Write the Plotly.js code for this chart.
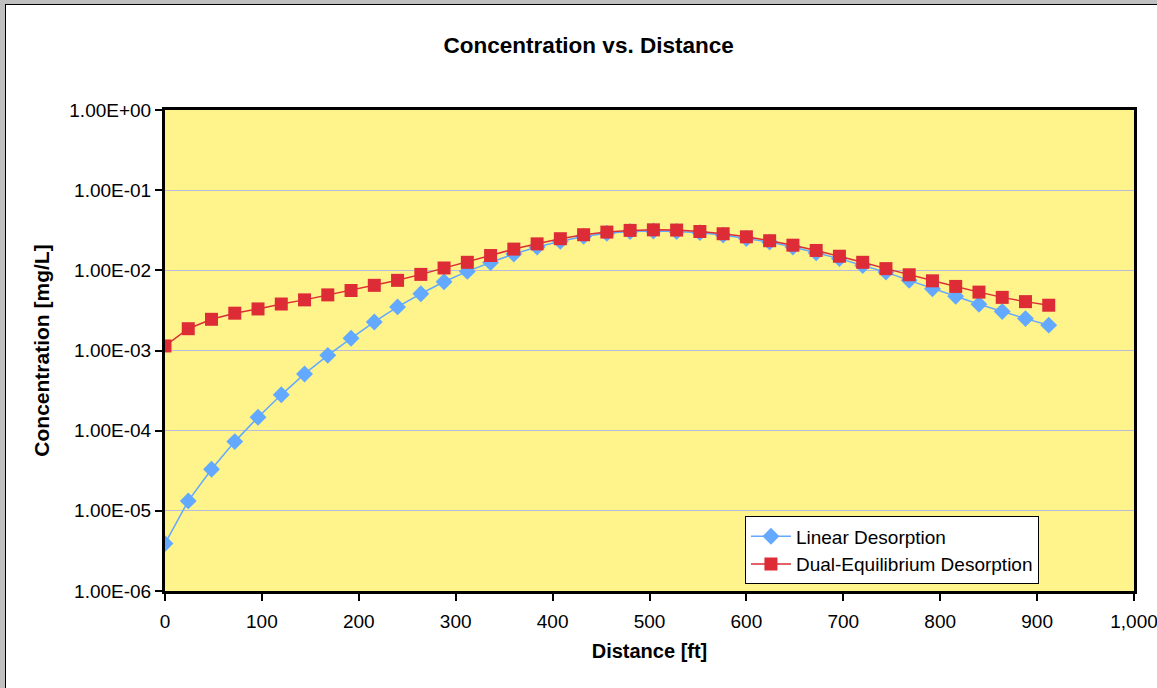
<!DOCTYPE html>
<html>
<head>
<meta charset="utf-8">
<script src="https://cdn.plot.ly/plotly-3.0.1.min.js"></script>
<style>
html,body{margin:0;padding:0;background:#c0c0c0;width:1157px;height:688px;overflow:hidden;}
#frame{position:absolute;left:5px;top:4px;width:1170px;height:700px;border:1px solid #000;background:#fff;overflow:hidden;}
#chart{width:1170px;height:700px;}
</style>
</head>
<body>
<div id="frame"><div id="chart"></div></div>
<script>
var distance = [0,24,48,72,96,120,144,168,192,216,240,264,288,312,336,360,384,408,432,456,480,504,528,552,576,600,624,648,672,696,720,744,768,792,816,840,864,888,912];
var linearDesorption = [3.9e-6,1.33e-5,3.3e-5,7.3e-5,1.47e-4,2.8e-4,5.1e-4,8.7e-4,1.42e-3,2.27e-3,3.5e-3,5.1e-3,7.2e-3,9.7e-3,1.25e-2,1.6e-2,1.95e-2,2.3e-2,2.65e-2,2.9e-2,3.05e-2,3.1e-2,3.05e-2,2.95e-2,2.75e-2,2.5e-2,2.25e-2,1.95e-2,1.65e-2,1.4e-2,1.15e-2,9.5e-3,7.5e-3,5.9e-3,4.75e-3,3.78e-3,3.06e-3,2.5e-3,2.07e-3];
var dualEquilibrium = [1.14e-3,1.87e-3,2.45e-3,2.92e-3,3.3e-3,3.8e-3,4.28e-3,4.94e-3,5.6e-3,6.5e-3,7.5e-3,8.9e-3,1.07e-2,1.26e-2,1.53e-2,1.84e-2,2.14e-2,2.48e-2,2.78e-2,3.0e-2,3.15e-2,3.2e-2,3.18e-2,3.05e-2,2.86e-2,2.62e-2,2.34e-2,2.06e-2,1.77e-2,1.5e-2,1.26e-2,1.05e-2,8.8e-3,7.4e-3,6.3e-3,5.35e-3,4.6e-3,4.07e-3,3.67e-3];
var yTickVals = [1e-6,1e-5,1e-4,1e-3,1e-2,1e-1,1];
var yTickText = ["1.00E-06","1.00E-05","1.00E-04","1.00E-03","1.00E-02","1.00E-01","1.00E+00"];

var traces = [
  {x: distance, y: linearDesorption, name: "Linear Desorption", type: "scatter", mode: "lines+markers",
   line: {color: "#63A9FF", width: 1.5}, marker: {symbol: "diamond", size: 13, color: "#63A9FF"}},
  {x: distance, y: dualEquilibrium, name: "Dual-Equilibrium Desorption", type: "scatter", mode: "lines+markers",
   line: {color: "#DD2C35", width: 1.5}, marker: {symbol: "square", size: 13, color: "#DD2C35"}}
];

var layout = {
  width: 1170, height: 700,
  margin: {l: 159, r: 42, t: 105, b: 114},
  paper_bgcolor: "#ffffff",
  plot_bgcolor: "#FFF48C",
  font: {family: "Liberation Sans, Arial, sans-serif", size: 19, color: "#000"},
  title: {text: "<b>Concentration vs. Distance</b>", font: {size: 22.5}, x: 0.498, xanchor: "center", y: 0.943, yanchor: "middle"},
  xaxis: {
    range: [0, 1000], dtick: 100, tick0: 0, tickformat: ",d",
    tickfont: {size: 19}, ticklabelstandoff: 4,
    showline: true, linecolor: "#000", linewidth: 3, mirror: true,
    ticks: "outside", ticklen: 7, tickwidth: 2, tickcolor: "#000",
    showgrid: false, zeroline: false,
    title: {text: "<b>Distance [ft]</b>", font: {size: 20}, standoff: 14}
  },
  yaxis: {
    type: "log", range: [-6, 0],
    tickvals: yTickVals, ticktext: yTickText,
    tickfont: {size: 19},
    showline: true, linecolor: "#000", linewidth: 3, mirror: true,
    ticks: "outside", ticklen: 7, tickwidth: 2, tickcolor: "#000",
    showgrid: true, gridcolor: "#B8BCD8", gridwidth: 1, zeroline: false,
    title: {text: "<b>Concentration [mg/L]</b>", font: {size: 21}, standoff: 14}
  },
  showlegend: true,
  legend: {x: 0.5985, y: 0.155, xanchor: "left", yanchor: "top", bgcolor: "#fff", bordercolor: "#000", borderwidth: 1,
    font: {size: 19}, tracegroupgap: 0, itemwidth: 40}
};

Plotly.newPlot("chart", traces, layout, {displayModeBar: false, staticPlot: true});
</script>
</body>
</html>
